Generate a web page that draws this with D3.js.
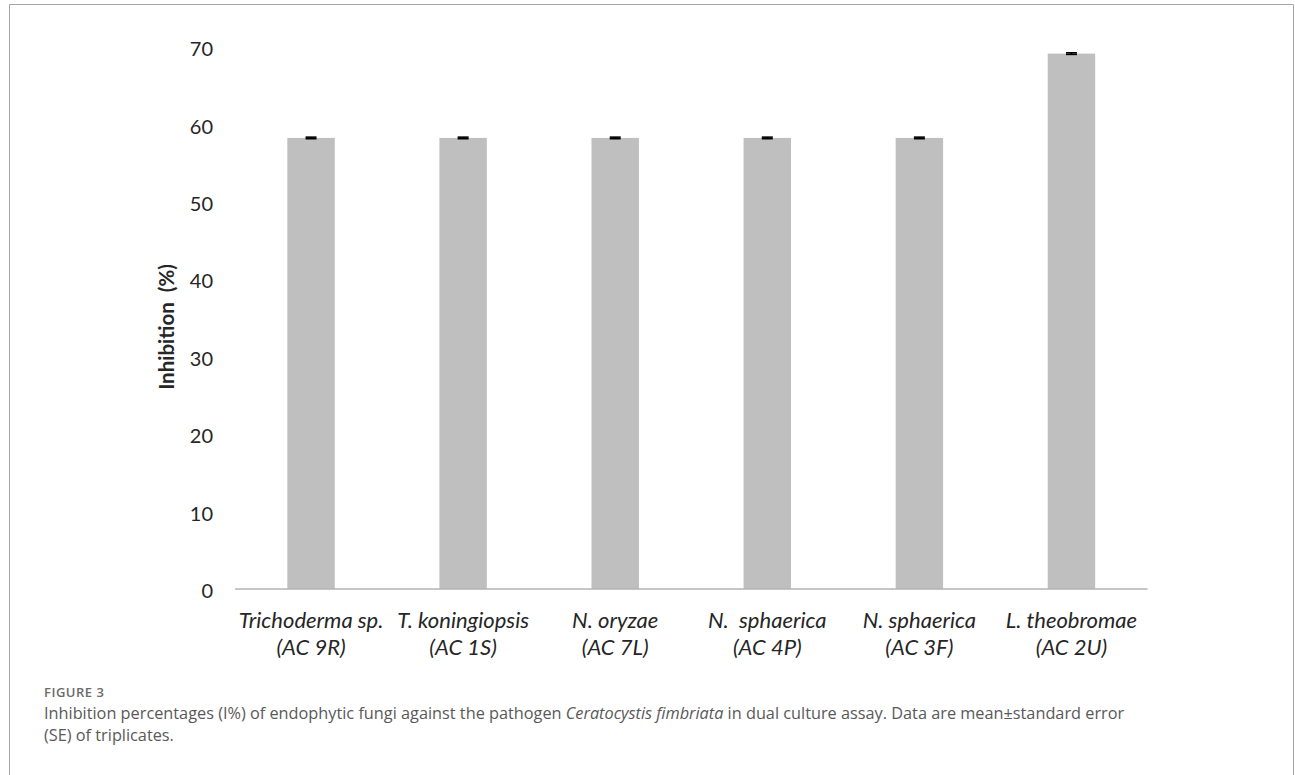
<!DOCTYPE html>
<html>
<head>
<meta charset="utf-8">
<script src="https://cdn.jsdelivr.net/npm/d3@7"></script>
<style>
  html, body { margin: 0; padding: 0; background: #fff; }
  svg { display: block; }
  text { white-space: pre; }
</style>
</head>
<body>
<svg id="chart" width="1295" height="775"></svg>
<script>
// ---- data ----
const speciesLabels = ["Trichoderma sp.", "T. koningiopsis", "N. oryzae", "N.  sphaerica", "N. sphaerica", "L. theobromae"];
const isolateLabels = ["(AC 9R)", "(AC 1S)", "(AC 7L)", "(AC 4P)", "(AC 3F)", "(AC 2U)"];
const inhibition = [58.3, 58.3, 58.3, 58.3, 58.3, 69.2];
const stdError = [0.1, 0.1, 0.1, 0.1, 0.1, 0.1];
const yTicks = [0, 10, 20, 30, 40, 50, 60, 70];
const yTitle = "Inhibition  (%)";
const figLabel = "FIGURE 3";
const captionLine1 = ["Inhibition percentages (I%) of endophytic fungi against the pathogen ", "Ceratocystis fimbriata", " in dual culture assay. Data are mean\u00B1standard error"];
const captionLine2 = "(SE) of triplicates.";

const data = isolateLabels.map((id, i) => ({ id, species: speciesLabels[i], value: inhibition[i], se: stdError[i] }));

const svg = d3.select("#chart");

// frame
svg.append("path")
  .attr("d", "M9.5,780 V4.5 H1293.5 V780")
  .attr("fill", "none").attr("stroke", "#a6a6a6").attr("stroke-width", 1);

const plotLeft = 235, plotRight = 1147.5, plotTop = 47.4, plotBottom = 589;

const x = d3.scaleBand().domain(isolateLabels).range([plotLeft, plotRight]).padding(0);
const y = d3.scaleLinear().domain([0, 70]).range([plotBottom, plotTop]);
const barW = x.bandwidth() * 0.312;

// y tick labels
const yAxis = d3.axisLeft(y).tickValues(yTicks).tickSize(0).tickPadding(22);
const gy = svg.append("g").attr("transform", `translate(${plotLeft},0)`).call(yAxis);
gy.select(".domain").remove();
gy.selectAll("text")
  .attr("font-family", "Lato, 'Open Sans', sans-serif")
  .attr("font-size", 20).attr("fill", "#262626").attr("dy", "0.42em");

// bars
svg.append("g").selectAll("rect").data(data).join("rect")
  .attr("x", d => x(d.id) + x.bandwidth() / 2 - barW / 2)
  .attr("y", d => y(d.value))
  .attr("width", barW)
  .attr("height", d => y(0) - y(d.value))
  .attr("fill", "#bfbfbf");

// error bars
const eb = svg.append("g").attr("stroke", "#000").attr("stroke-width", 1.6);
data.forEach(d => {
  const cx = x(d.id) + x.bandwidth() / 2;
  eb.append("line").attr("x1", cx).attr("x2", cx).attr("y1", y(d.value + d.se)).attr("y2", y(d.value - d.se));
  eb.append("line").attr("x1", cx - 5.5).attr("x2", cx + 5.5).attr("y1", y(d.value + d.se)).attr("y2", y(d.value + d.se));
  eb.append("line").attr("x1", cx - 5.5).attr("x2", cx + 5.5).attr("y1", y(d.value - d.se)).attr("y2", y(d.value - d.se));
});

// x axis baseline and labels
const xAxis = d3.axisBottom(x).tickSize(0).tickFormat(() => "");
const gx = svg.append("g").attr("transform", `translate(0,${plotBottom})`).call(xAxis);
gx.select(".domain").attr("stroke", "#b3b3b3").attr("stroke-width", 1.5).attr("d", `M${plotLeft},0H${plotRight}`);
gx.selectAll(".tick text").remove();
gx.selectAll(".tick").each(function(id, i) {
  const t = d3.select(this).append("text")
    .attr("text-anchor", "middle")
    .attr("font-family", "Lato, 'Open Sans', sans-serif")
    .attr("font-style", "italic")
    .attr("font-size", 22).attr("fill", "#262626");
  t.append("tspan").attr("x", 0).attr("y", 39).text(speciesLabels[i]);
  t.append("tspan").attr("x", 0).attr("y", 66).text(isolateLabels[i]);
});

// y title
svg.append("text")
  .attr("transform", "translate(174,327) rotate(-90)")
  .attr("text-anchor", "middle")
  .attr("font-family", "Lato, 'Open Sans', sans-serif")
  .attr("font-weight", "bold").attr("font-size", 20.5).attr("fill", "#262626")
  .text(yTitle);

// caption
svg.append("text").attr("x", 44).attr("y", 697)
  .attr("font-family", "'Open Sans', sans-serif").attr("font-weight", 600)
  .attr("font-size", 13).attr("letter-spacing", 0.5).attr("fill", "#6b6b6b").text(figLabel);

const c1 = svg.append("text").attr("x", 44).attr("y", 719)
  .attr("font-family", "'Open Sans', sans-serif")
  .attr("font-size", 16.3).attr("fill", "#595959");
c1.append("tspan").text(captionLine1[0]);
c1.append("tspan").attr("font-style", "italic").text(captionLine1[1]);
c1.append("tspan").text(captionLine1[2]);

svg.append("text").attr("x", 44).attr("y", 741)
  .attr("font-family", "'Open Sans', sans-serif")
  .attr("font-size", 16.3).attr("fill", "#595959").text(captionLine2);
</script>
</body>
</html>
